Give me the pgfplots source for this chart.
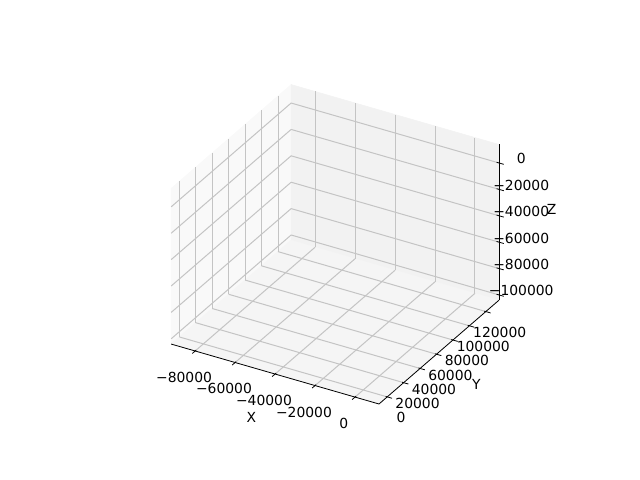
\documentclass[border=0pt]{standalone}
\usepackage{fontspec}
\setmainfont{DejaVu Sans}
\usepackage{pgfplots}
\pgfplotsset{compat=1.18}
\definecolor{gridc}{HTML}{C4C4C4}
\begin{document}
\begin{tikzpicture}
\begin{axis}[
  set layers,
  clip=false,
  view={30}{30},
  plot box ratio=4 4 3,
  scale only axis, width=236pt, height=230pt,
  xmin=-92000,xmax=12000,ymin=-10000,ymax=136000,zmin=-104000,zmax=14000,
  scaled ticks=false,
  xtick={-80000,-60000,-40000,-20000,0}, xticklabels={−80000,−60000,−40000,−20000,0},
  ytick={0,20000,40000,60000,80000,100000,120000}, yticklabels={0,20000,40000,60000,80000,100000,120000},
  ztick={-100000,-80000,-60000,-40000,-20000,0}, zticklabels={−100000,−80000,−60000,−40000,−20000,0},
  zticklabel pos=right,
  grid=major, grid style={color=gridc, line width=0.72pt},
  axis line style={draw=none},
  tick style={draw=none},
  tick label style={font=\fontsize{10}{12}\selectfont},
  label style={font=\fontsize{10}{12}\selectfont},
  xticklabel style={anchor=center, xshift=-8pt, yshift=-19pt},
  yticklabel style={anchor=center, xshift=10pt, yshift=-15pt},
  zticklabel style={anchor=center, xshift=16pt, yshift=3pt},
  xlabel={X}, ylabel={Y}, zlabel={Z},
  every axis x label/.style={at={(rel axis cs:0.5,0,0)}, anchor=center, xshift=-17pt, yshift=-31pt},
  every axis y label/.style={at={(rel axis cs:1,0.5,0)}, anchor=center, xshift=27pt, yshift=-23pt},
  every axis z label/.style={at={(rel axis cs:1,1,0.54)}, anchor=center, xshift=38pt, yshift=5pt},
  unbounded coords=jump,
]
\addplot3[on layer=axis background, fill=black!2.5, draw=black!2.5] coordinates {(-92000,-10000,-104000) (-92000,136000,-104000) (-92000,136000,14000) (-92000,-10000,14000) (-92000,-10000,-104000)};
\addplot3[on layer=axis background, fill=black!5, draw=black!5] coordinates {(-92000,136000,-104000) (12000,136000,-104000) (12000,136000,14000) (-92000,136000,14000) (-92000,136000,-104000)};
\addplot3[on layer=axis background, fill=black!3.75, draw=black!3.75] coordinates {(-92000,-10000,-104000) (12000,-10000,-104000) (12000,136000,-104000) (-92000,136000,-104000) (-92000,-10000,-104000)};
% axis lines
\addplot3[black, line width=0.576pt] coordinates {(-92000,-10000,-104000) (12000,-10000,-104000) (12000,136000,-104000)};
\addplot3[black, line width=0.576pt] coordinates {(12000,136000,-104000) (12000,136000,14000)};
% tick marks
\addplot3[black, line width=0.576pt] coordinates {
(-80000,-13500,-104000) (-80000,-8800,-104000) (nan,nan,nan)
(-60000,-13500,-104000) (-60000,-8800,-104000) (nan,nan,nan)
(-40000,-13500,-104000) (-40000,-8800,-104000) (nan,nan,nan)
(-20000,-13500,-104000) (-20000,-8800,-104000) (nan,nan,nan)
(0,-13500,-104000) (0,-8800,-104000)};
\addplot3[black, line width=0.576pt] coordinates {
(11200,0,-104000) (14400,0,-104000) (nan,nan,nan)
(11200,20000,-104000) (14400,20000,-104000) (nan,nan,nan)
(11200,40000,-104000) (14400,40000,-104000) (nan,nan,nan)
(11200,60000,-104000) (14400,60000,-104000) (nan,nan,nan)
(11200,80000,-104000) (14400,80000,-104000) (nan,nan,nan)
(11200,100000,-104000) (14400,100000,-104000) (nan,nan,nan)
(11200,120000,-104000) (14400,120000,-104000)};
\addplot3[black, line width=0.576pt] coordinates {
(10800,136000,-100000) (14400,136000,-100000) (nan,nan,nan)
(10800,136000,-80000) (14400,136000,-80000) (nan,nan,nan)
(10800,136000,-60000) (14400,136000,-60000) (nan,nan,nan)
(10800,136000,-40000) (14400,136000,-40000) (nan,nan,nan)
(10800,136000,-20000) (14400,136000,-20000) (nan,nan,nan)
(10800,136000,0) (14400,136000,0)};
\coordinate (C) at (axis cs:12000,-10000,-104000);
\end{axis}
\pgfresetboundingbox
\path[use as bounding box] (C) ++(-272.88pt,290.88pt) rectangle ++(460.8pt,-345.6pt);
\end{tikzpicture}
\end{document}
